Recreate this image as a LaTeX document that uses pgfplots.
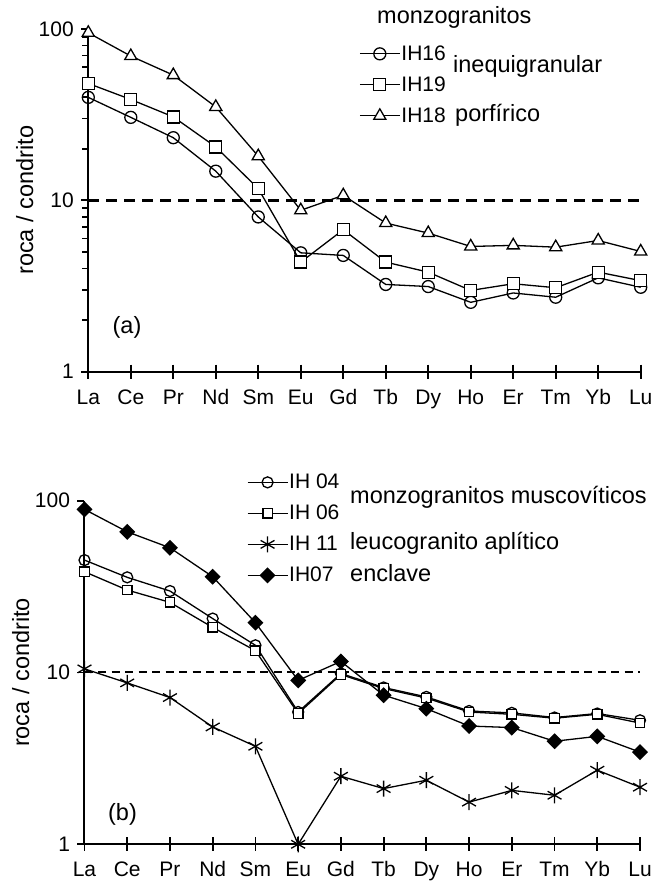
\documentclass[border=0pt]{standalone}
\usepackage{fontspec}
\setmainfont{Liberation Sans}
\usepackage{pgfplots}
\pgfplotsset{compat=1.18}

\newcommand\tickfont{\fontsize{21}{24}\selectfont}
\newcommand\descfont{\fontsize{23.5}{27}\selectfont}

\pgfplotsset{
  every axis/.append style={
    scale only axis, anchor=south west, clip=false,
    xmin=0, xmax=13, ymin=1, ymax=100,
    axis lines=left,
    axis line style={-, draw=none},
    major tick length=0pt, minor tick length=0pt,
    tick style={draw=none},
    xtick={0,...,13},
    xticklabels={La,Ce,Pr,Nd,Sm,Eu,Gd,Tb,Dy,Ho,Er,Tm,Yb,Lu},
    ytick={1,10,100}, yticklabels={1,10,100},
    xticklabel style={font=\tickfont, text height=15pt, text depth=0pt, anchor=north, yshift=-14pt},
    yticklabel style={font=\tickfont, anchor=east, xshift=-11pt},
    ylabel style={font=\descfont, at={(axis description cs:-0.115,0.5)}, anchor=center},
    legend style={draw=none, fill=none, inner sep=0pt, font=\tickfont,
      nodes={inner ysep=0pt, inner xsep=1pt, minimum height=31pt}, anchor=west},
    legend cell align=left,
    legend image code/.code={\draw[mark repeat=2,mark phase=2]
      plot coordinates {(0pt,0pt)(20pt,0pt)(40pt,0pt)};},
  },
  ser/.style={black, line width=1.3pt, mark options={solid, fill=white, line width=1.3pt}},
  % axis frame and tick marks, drawn in axis units
  frame/.style={forget plot, black, line width=2pt},
  xtk/.style={forget plot, only marks, mark=|, mark size=7pt, mark options={black, line width=1.8pt}},
  ytk/.style={forget plot, only marks, mark=-, mark size=3.5pt, mark options={black, line width=1.8pt, xshift=-3.5pt}},
  ymtk/.style={forget plot, only marks, mark=-, mark size=3pt, mark options={black, line width=1.6pt, xshift=-3pt}},
}

\begin{document}
\begin{tikzpicture}
\useasboundingbox (0,0) rectangle (655pt,888pt);

% (a)
\begin{semilogyaxis}[at={(88.3pt,516.3pt)}, width=552.4pt, height=342.7pt,
    ylabel={roca / condrito},
    legend style={at={(axis description cs:0.49,0.837)}}]
  \addplot[frame] coordinates {(0,100) (0,1) (13,1)};
  \addplot[xtk] coordinates {(0,1) (1,1) (2,1) (3,1) (4,1) (5,1) (6,1)
    (7,1) (8,1) (9,1) (10,1) (11,1) (12,1) (13,1)};
  \addplot[ytk] coordinates {(0,1) (0,10) (0,100)};
  \addplot[ymtk] coordinates {(0,2) (0,3) (0,4) (0,5) (0,6) (0,7) (0,8) (0,9)
    (0,20) (0,30) (0,40) (0,50) (0,60) (0,70) (0,80) (0,90)};
  \addplot[forget plot, black, line width=2.8pt, dash pattern=on 11pt off 7pt]
    coordinates {(0,10) (13,10)};
  \addplot[ser, mark=o, mark size=6pt] coordinates {
    (0,39.9) (1,30.5) (2,23.2) (3,14.8) (4,8.0) (5,4.94) (6,4.77)
    (7,3.23) (8,3.14) (9,2.54) (10,2.88) (11,2.72) (12,3.53) (13,3.11)};
  \addlegendentry{IH16}
  \addplot[ser, mark=square*, mark size=6pt] coordinates {
    (0,48.1) (1,38.8) (2,30.7) (3,20.5) (4,11.7) (5,4.36) (6,6.74)
    (7,4.36) (8,3.81) (9,2.98) (10,3.26) (11,3.09) (12,3.81) (13,3.40)};
  \addlegendentry{IH19}
  \addplot[ser, mark=triangle*, mark size=7pt] coordinates {
    (0,95) (1,69.5) (2,53.8) (3,35.1) (4,18.1) (5,8.75) (6,10.7)
    (7,7.37) (8,6.44) (9,5.38) (10,5.46) (11,5.33) (12,5.83) (13,5.03)};
  \addlegendentry{IH18}
\end{semilogyaxis}

% (b)
\begin{semilogyaxis}[at={(84.5pt,43.7pt)}, width=555.5pt, height=343.6pt,
    ylabel={roca / condrito},
    yminorticks=false,
    legend style={at={(axis description cs:0.292,0.918)}}]
  \addplot[frame] coordinates {(0,100) (0,1) (13,1)};
  \addplot[xtk] coordinates {(0,1) (1,1) (2,1) (3,1) (4,1) (5,1) (6,1)
    (7,1) (8,1) (9,1) (10,1) (11,1) (12,1) (13,1)};
  \addplot[ytk] coordinates {(0,1) (0,10) (0,100)};
  \addplot[forget plot, black, line width=2pt, dash pattern=on 8pt off 5.5pt]
    coordinates {(0,10) (13,10)};
  \addplot[ser, mark=o, mark size=5.5pt] coordinates {
    (0,45.1) (1,35.8) (2,29.8) (3,20.6) (4,14.4) (5,5.89) (6,9.87)
    (7,8.18) (8,7.21) (9,5.97) (10,5.82) (11,5.47) (12,5.77) (13,5.27)};
  \addlegendentry{IH 04}
  \addplot[ser, mark=square*, mark size=4.7pt] coordinates {
    (0,38.6) (1,30.2) (2,25.6) (3,18.3) (4,13.4) (5,5.77) (6,9.73)
    (7,8.07) (8,7.1) (9,5.89) (10,5.71) (11,5.42) (12,5.71) (13,5.08)};
  \addlegendentry{IH 06}
  \addplot[ser, mark=asterisk, mark size=8pt] coordinates {
    (0,10.5) (1,8.7) (2,7.15) (3,4.82) (4,3.72) (5,1.0) (6,2.49)
    (7,2.11) (8,2.36) (9,1.76) (10,2.06) (11,1.93) (12,2.70) (13,2.15)};
  \addlegendentry{IH 11}
  \addplot[ser, mark=square*, mark size=5pt, mark options={fill=black, rotate=45}] coordinates {
    (0,89) (1,65.9) (2,53.2) (3,36.1) (4,19.5) (5,9.0) (6,11.6)
    (7,7.38) (8,6.16) (9,4.88) (10,4.78) (11,3.98) (12,4.25) (13,3.44)};
  \addlegendentry{IH07}
\end{semilogyaxis}

% group names and panel letters
\node[anchor=base west, font=\descfont, inner sep=0pt] at (377pt,864pt) {monzogranitos};
\node[anchor=base west, font=\descfont, inner sep=0pt] at (453pt,815pt) {inequigranular};
\node[anchor=base west, font=\descfont, inner sep=0pt] at (455pt,766pt) {porfírico};
\node[font=\descfont] at (127pt,561pt) {(a)};

\node[anchor=base west, font=\descfont, inner sep=0pt] at (350pt,384pt) {monzogranitos muscovíticos};
\node[anchor=base west, font=\descfont, inner sep=0pt] at (350pt,338pt) {leucogranito aplítico};
\node[anchor=base west, font=\descfont, inner sep=0pt] at (350pt,306pt) {enclave};
\node[font=\descfont] at (122.5pt,74pt) {(b)};
\end{tikzpicture}
\end{document}
